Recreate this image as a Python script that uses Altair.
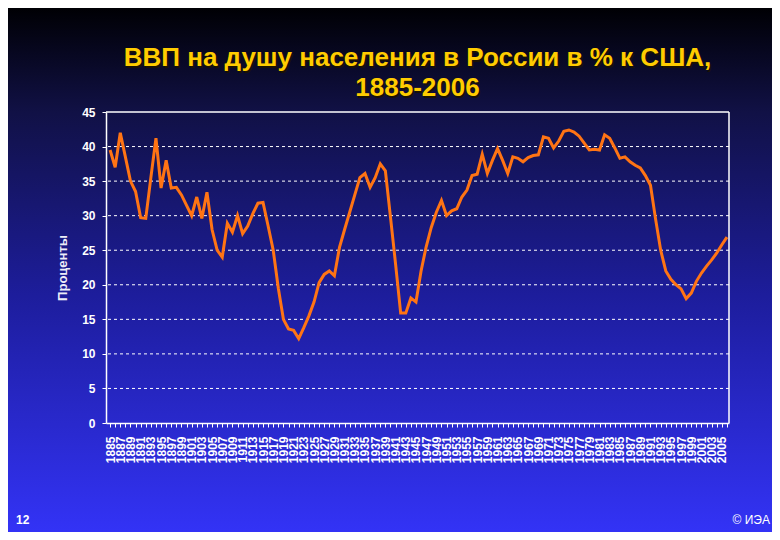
import altair as alt
import pandas as pd

# ---- data ----
years = list(range(1885, 2007))
gdp_pct = [
    39.5, 37.0, 42.0, 38.5, 35.0, 33.5, 29.7, 29.6, 35.5, 41.2,   # 1885-1894
    34.0, 38.0, 34.0, 34.1, 33.0, 31.5, 30.0, 32.7, 29.6, 33.4,   # 1895-1904
    28.0, 25.0, 24.0, 28.9, 27.6, 30.0, 27.4, 28.5, 30.3, 31.8,   # 1905-1914
    31.9, 28.5, 25.0, 19.5, 15.0, 13.6, 13.4, 12.2, 13.8, 15.5,   # 1915-1924
    17.5, 20.3, 21.5, 22.0, 21.3, 25.4, 28.0, 30.5, 33.0, 35.5,   # 1925-1934
    36.1, 34.1, 35.5, 37.5, 36.5, 29.8, 23.0, 15.9, 15.9, 18.1,   # 1935-1944
    17.5, 22.0, 25.5, 28.3, 30.5, 32.2, 30.0, 30.7, 31.0, 32.7,   # 1945-1954
    33.7, 35.8, 36.0, 38.9, 36.1, 38.0, 39.7, 38.0, 36.1, 38.5,   # 1955-1964
    38.3, 37.8, 38.4, 38.7, 38.8, 41.4, 41.2, 39.8, 40.8, 42.2,   # 1965-1974
    42.4, 42.1, 41.5, 40.5, 39.5, 39.6, 39.5, 41.7, 41.2, 39.8,   # 1975-1984
    38.3, 38.5, 37.8, 37.3, 36.9, 35.8, 34.4, 29.5, 25.0, 22.0,   # 1985-1994
    20.8, 20.0, 19.4, 18.0, 18.8, 20.5, 21.7, 22.7, 23.6, 24.6,   # 1995-2004
    25.8, 26.9,                                                   # 2005-2006
]
y_ticks = [0, 5, 10, 15, 20, 25, 30, 35, 40, 45]
y_grid = [5, 10, 15, 20, 25, 30, 35, 40]
title_lines = ["ВВП на душу населения в России в % к США,", "1885-2006"]
y_title = "Проценты"
footer_left = "12"
footer_right = "© ИЭА"

# ---- layout ----
W, H = 623, 311
PAD_L, PAD_T = 98, 104
PAD_R = 780 - 16 - PAD_L - W
PAD_B = 540 - 16 - PAD_T - H
FONT = "Liberation Sans"

df = pd.DataFrame({"year": years, "pct": gdp_pct})
one = pd.DataFrame({"k": [0]})

x_scale = alt.Scale(domain=[1884.2, 2006.4], nice=False, zero=False)
y_scale = alt.Scale(domain=[0, 45], nice=False)

x_axis = alt.Axis(
    values=years,
    format="d",
    labelExpr="datum.value % 2 == 1 ? datum.label : ''",
    labelAngle=-90,
    labelOverlap=False,
    labelColor="white",
    labelFont=FONT,
    labelFontWeight="bold",
    labelFontSize=12,
    labelPadding=9,
    tickSize=4,
    tickColor="white",
    domainColor="white",
    domainWidth=1.5,
    grid=False,
    title=None,
    zindex=1,
)
y_axis = alt.Axis(
    values=y_ticks,
    labelColor="white",
    labelFont=FONT,
    labelFontWeight="bold",
    labelFontSize=12,
    labelPadding=7,
    tickSize=4,
    tickColor="white",
    domainColor="white",
    domainWidth=1.5,
    grid=False,
    title=y_title,
    titleColor="#ececf8",
    titleFont=FONT,
    titleFontSize=13,
    titleFontWeight="bold",
    titlePadding=12,
    zindex=1,
)

gradient = alt.Gradient(
    gradient="linear",
    stops=[
        alt.GradientStop(color="#000004", offset=0),
        alt.GradientStop(color="#111146", offset=0.2),
        alt.GradientStop(color="#1d1d9c", offset=0.55),
        alt.GradientStop(color="#3333f6", offset=1),
    ],
    x1=0, x2=0, y1=0, y2=1,
)

bg = alt.Chart(one).mark_rect(fill=gradient, strokeWidth=0).encode(
    x=alt.value(-PAD_L), x2=alt.value(W + PAD_R),
    y=alt.value(-PAD_T), y2=alt.value(H + PAD_B),
)

grid = alt.Chart(pd.DataFrame({"pct": y_grid})).mark_rule(
    color="white", strokeDash=[3, 3], strokeWidth=1
).encode(y=alt.Y("pct:Q", scale=y_scale, axis=y_axis))

frame_top = alt.Chart(one).mark_rule(color="white", strokeWidth=1.5).encode(
    x=alt.value(0), x2=alt.value(W), y=alt.value(0)
)
frame_right = alt.Chart(one).mark_rule(color="white", strokeWidth=1.5).encode(
    x=alt.value(W), y=alt.value(0), y2=alt.value(H)
)

line = alt.Chart(df).mark_line(color="#ff7414", strokeWidth=3).encode(
    x=alt.X("year:Q", scale=x_scale, axis=x_axis),
    y=alt.Y("pct:Q", scale=y_scale, axis=y_axis),
)


def title_text(text, dy, color, shift):
    return alt.Chart(one).mark_text(
        text=text, color=color, font=FONT, fontSize=26, fontWeight="bold",
        align="center", baseline="middle",
    ).encode(x=alt.value(W / 2 + shift), y=alt.value(dy + shift))


titles = [
    title_text(title_lines[0], -54, "#1a1204", 1.5),
    title_text(title_lines[1], -24, "#1a1204", 1.5),
    title_text(title_lines[0], -54, "#ffcc00", 0),
    title_text(title_lines[1], -24, "#ffcc00", 0),
]

foot_l = alt.Chart(one).mark_text(
    text=footer_left, color="white", font=FONT, fontSize=12, fontWeight="bold", align="left"
).encode(x=alt.value(-PAD_L + 8), y=alt.value(H + 97))

foot_r = alt.Chart(one).mark_text(
    text=footer_right, color="white", font=FONT, fontSize=12, align="right"
).encode(x=alt.value(W + PAD_R - 2), y=alt.value(H + 97))

chart = alt.layer(bg, grid, frame_top, frame_right, line, *titles, foot_l, foot_r).properties(
    width=W,
    height=H,
    padding={"left": PAD_L, "top": PAD_T, "right": PAD_R, "bottom": PAD_B},
    autosize=alt.AutoSizeParams(type="none"),
    background="#1a1a80",
).configure_view(strokeWidth=0)

chart.save("out.html", embed_options={"renderer": "svg", "actions": False})
